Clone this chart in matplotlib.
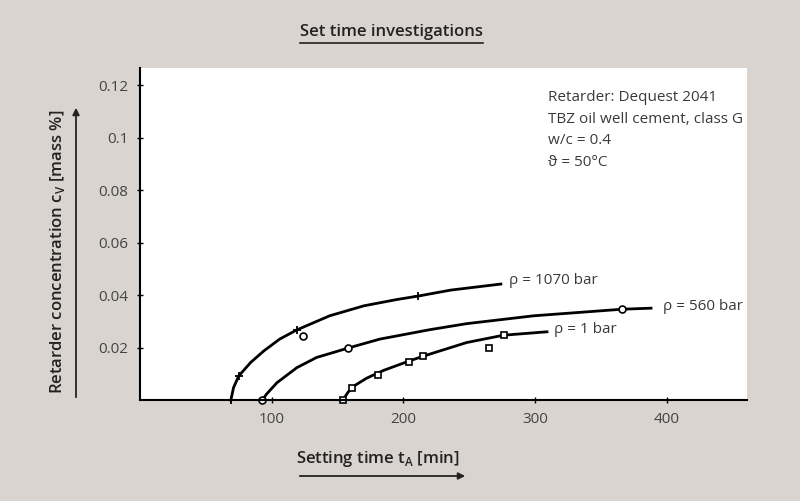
import matplotlib
matplotlib.use("Agg")
import matplotlib.pyplot as plt
from matplotlib.lines import Line2D

plt.rcParams['font.family'] = ['Open Sans', 'DejaVu Sans']

# curve points (setting time in min, concentration in mass %)
t_1070 = [69, 71, 75, 84, 94, 106, 119, 144, 170, 195, 211, 236, 274]
c_1070 = [0, 0.0047, 0.0092, 0.0143, 0.0187, 0.0232, 0.0267, 0.0321, 0.0359, 0.0383, 0.0396, 0.0419, 0.0442]

t_560 = [93, 96, 104, 119, 134, 158, 182, 220, 248, 299, 366, 388]
c_560 = [0, 0.0022, 0.0066, 0.0123, 0.0162, 0.0198, 0.0232, 0.0268, 0.0291, 0.0321, 0.0346, 0.035]

t_1 = [154, 158, 163, 172, 185, 204, 215, 248, 276, 309]
c_1 = [0, 0.003, 0.0055, 0.0083, 0.0113, 0.0148, 0.0167, 0.0219, 0.0247, 0.026]

# measured points
plus_t = [69, 75, 119, 211]
plus_c = [0, 0.0092, 0.0267, 0.0396]
circ_t = [93, 124, 158, 366]
circ_c = [0, 0.0244, 0.0198, 0.0346]
sq_t = [154, 161, 181, 204, 215, 265, 276]
sq_c = [0, 0.0047, 0.0094, 0.0146, 0.0167, 0.0198, 0.0247]

curve_labels = ["\u03c1 = 1070 bar", "\u03c1 = 560 bar", "\u03c1 = 1 bar"]
info_lines = ["Retarder: Dequest 2041", "TBZ oil well cement, class G",
              "w/c = 0.4", "\u03d1 = 50\u00b0C"]
x_ticks = [100, 200, 300, 400]
y_ticks = [0.02, 0.04, 0.06, 0.08, 0.1, 0.12]
y_ticklabels = ["0.02", "0.04", "0.06", "0.08", "0.1", "0.12"]

bg = "#d9d4cf"
txt = "#3a3a3a"

fig = plt.figure(figsize=(8, 5.01), dpi=100, facecolor=bg)
ax = fig.add_axes([0.175, 0.2016, 0.759, 0.6624])
ax.set_facecolor("white")

ax.plot(t_1070, c_1070, color="black", lw=2, clip_on=False)
ax.plot(t_560, c_560, color="black", lw=2, clip_on=False)
ax.plot(t_1, c_1, color="black", lw=2, clip_on=False)

ax.plot(plus_t, plus_c, ls="none", marker="+", ms=6, mew=1.3, color="black", clip_on=False)
ax.plot(circ_t, circ_c, ls="none", marker="o", ms=5, mew=1.2, mfc="white", mec="black", clip_on=False)
ax.plot(sq_t, sq_c, ls="none", marker="s", ms=5, mew=1.2, mfc="white", mec="black", clip_on=False)

ax.text(t_1070[-1] + 6, c_1070[-1] + 0.0012, curve_labels[0], fontsize=11, color=txt, va="center")
ax.text(t_560[-1] + 9, c_560[-1] + 0.0008, curve_labels[1], fontsize=11, color=txt, va="center")
ax.text(t_1[-1] + 5, c_1[-1] + 0.0008, curve_labels[2], fontsize=11, color=txt, va="center")

for i, line in enumerate(info_lines):
    ax.text(310, 0.1154 - i * 0.0083, line, fontsize=11, color=txt, va="center")

ax.set_xlim(0, 461)
ax.set_ylim(0, 0.1265)
ax.set_xticks(x_ticks)
ax.set_yticks(y_ticks)
ax.set_yticklabels(y_ticklabels)
ax.tick_params(direction="inout", length=5, width=1, colors="black",
               labelcolor="#444444", labelsize=11, pad=6)

for s in ["top", "right"]:
    ax.spines[s].set_visible(False)
for s in ["left", "bottom"]:
    ax.spines[s].set_linewidth(1.5)

# title with underline
fig.text(391 / 800, 1 - 32 / 501, "Set time investigations", ha="center", va="center",
         fontsize=12, fontweight="semibold", color="#222222")
fig.add_artist(Line2D([300 / 800, 483 / 800], [1 - 43 / 501, 1 - 43 / 501], color="#222222", lw=1.2))

# axis labels with arrows
fig.text(378 / 800, 1 - 459 / 501, "Setting time t$_\\mathregular{A}$ [min]", ha="center", va="center",
         fontsize=12, fontweight="semibold", color="#222222")
fig.text(58 / 800, 1 - 252 / 501, "Retarder concentration c$_\\mathregular{V}$ [mass %]", ha="center",
         va="center", rotation=90, fontsize=12, fontweight="semibold", color="#222222")
ax.annotate("", xy=(468 / 800, 1 - 476 / 501), xytext=(297 / 800, 1 - 476 / 501),
            xycoords="figure fraction",
            arrowprops=dict(arrowstyle="-|>", color="#222222", lw=1.3, mutation_scale=10))
ax.annotate("", xy=(76 / 800, 1 - 105 / 501), xytext=(76 / 800, 1 - 400 / 501),
            xycoords="figure fraction",
            arrowprops=dict(arrowstyle="-|>", color="#222222", lw=1.3, mutation_scale=10))

fig.savefig("out.png", dpi=100, facecolor=bg)
